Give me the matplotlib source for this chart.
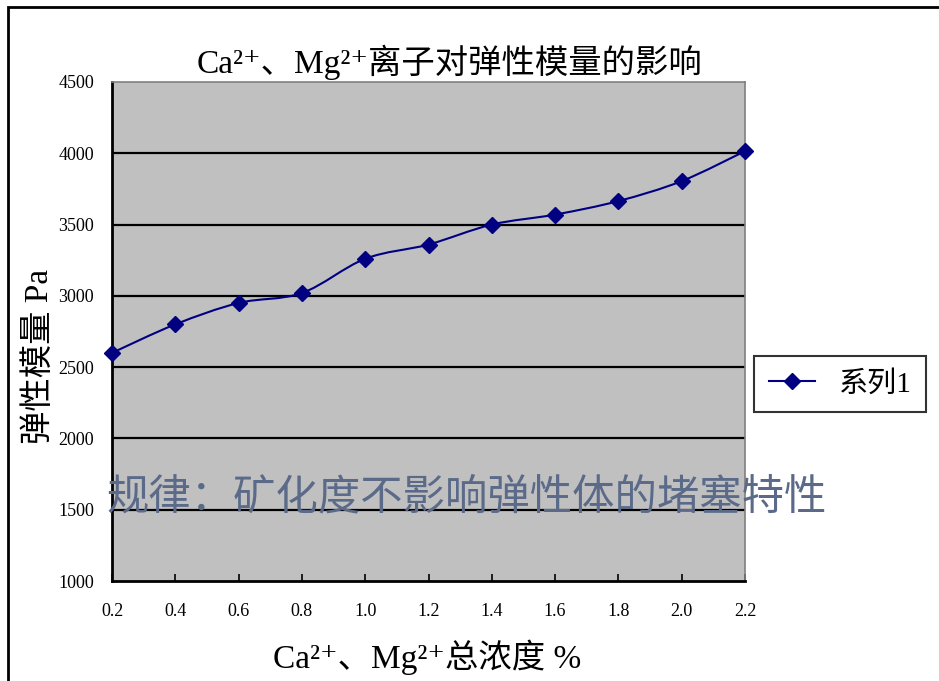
import numpy as np
import matplotlib.pyplot as plt
from matplotlib.path import Path
from matplotlib.patches import PathPatch, Rectangle
from matplotlib.lines import Line2D

# Ca2+/Mg2+ total concentration (%) vs elastic modulus (Pa)
conc = [0.2, 0.4, 0.6, 0.8, 1.0, 1.2, 1.4, 1.6, 1.8, 2.0, 2.2]
modulus = [2600, 2800, 2950, 3020, 3260, 3360, 3500, 3570, 3665, 3805, 4015]
xtick_labels = ['0.2', '0.4', '0.6', '0.8', '1.0', '1.2', '1.4', '1.6', '1.8', '2.0', '2.2']
yticks = [1000, 1500, 2000, 2500, 3000, 3500, 4000, 4500]

title = 'Ca²⁺、Mg²⁺离子对弹性模量的影响'
xlabel = 'Ca²⁺、Mg²⁺总浓度 %'
ylabel = '弹性模量 Pa'
note = '规律：矿化度不影响弹性体的堵塞特性'
series_name = '系列1'

fonts = ['Liberation Serif', 'DejaVu Serif', 'Noto Sans CJK SC']
plt.rcParams['font.family'] = fonts
navy = '#000080'

fig = plt.figure(figsize=(9.39, 6.81), dpi=100)
fig.patches.append(Rectangle((8/939, -0.05), 1.1, 1 - 7/681 + 0.05,
                             transform=fig.transFigure, fill=False,
                             edgecolor='black', linewidth=2))

ax = fig.add_axes([112/939, 1 - 581/681, 633/939, 499/681])
ax.set_facecolor('#c0c0c0')
ax.set_xlim(0.2, 2.2)
ax.set_ylim(1000, 4500)

for v in yticks[1:-1]:
    ax.axhline(v, color='black', linewidth=1.6, zorder=1)

# smoothed curve through the points (Catmull-Rom as cubic Bezier)
pts = np.column_stack([conc, modulus]).astype(float)
ext = np.vstack([pts[0], pts, pts[-1]])
verts = [tuple(pts[0])]
codes = [Path.MOVETO]
for i in range(len(pts) - 1):
    p0, p1, p2, p3 = ext[i], ext[i + 1], ext[i + 2], ext[i + 3]
    c1 = p1 + (p2 - p0) / 6
    c2 = p2 - (p3 - p1) / 6
    verts += [tuple(c1), tuple(c2), tuple(p2)]
    codes += [Path.CURVE4] * 3
ax.add_patch(PathPatch(Path(verts, codes), facecolor='none', edgecolor=navy,
                       linewidth=1.5, zorder=3))
ax.plot(conc, modulus, linestyle='none', marker='D', markersize=8,
        color=navy, zorder=4, clip_on=False)

ax.set_xticks(conc)
ax.set_xticklabels(xtick_labels, fontsize=13)
ax.set_yticks(yticks)
ax.set_yticklabels([str(v) for v in yticks], fontsize=13)
ax.tick_params(axis='x', direction='in', length=5, width=1.2, pad=16)
ax.tick_params(axis='y', length=0, pad=13)

for s in ['left', 'bottom']:
    ax.spines[s].set_color('black')
    ax.spines[s].set_linewidth(2)
for s in ['top', 'right']:
    ax.spines[s].set_color('#808080')
    ax.spines[s].set_linewidth(1.2)

fig.text(450/939, 1 - 62/681, title, fontsize=24, ha='center', va='center')
fig.text(427/939, 1 - 657/681, xlabel, fontsize=24, ha='center', va='center')
fig.text(40/939, 1 - 356/681, ylabel, fontsize=24, ha='center', va='center',
         rotation=90)
fig.text(106/939, 1 - 499/681, note, fontsize=30.5, ha='left', va='center',
         color='#5a6a88', zorder=10)

handle = Line2D([], [], color=navy, marker='D', markersize=8, linewidth=1.5)
leg = fig.legend([handle], [series_name], loc='center',
                 bbox_to_anchor=(840/939, 1 - 384/681), fontsize=21,
                 frameon=True, fancybox=False, handlelength=1.6,
                 borderpad=0.5, edgecolor='black')
leg.get_frame().set_linewidth(1.5)

fig.savefig('out.png', dpi=100)
